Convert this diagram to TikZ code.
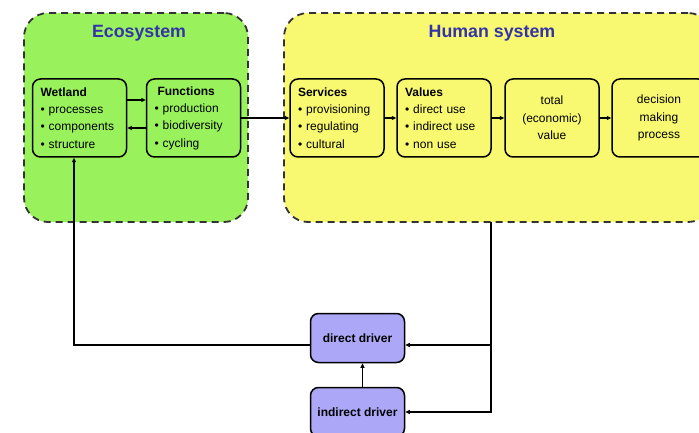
\documentclass[tikz,border=0pt]{standalone}
\usepackage{fontspec}
\setmainfont{Liberation Sans}
\usetikzlibrary{arrows.meta}
\definecolor{ecoG}{RGB}{153,242,92}
\definecolor{humY}{RGB}{249,248,113}
\definecolor{drvP}{RGB}{172,168,247}
\definecolor{ttlB}{RGB}{52,52,168}

\begin{document}
\begin{tikzpicture}[x=1pt,y=-1pt,>={Triangle[length=4.5pt,width=4pt]},
  zone/.style={draw=black!80,line width=1.8pt,dash pattern=on 7pt off 5pt,rounded corners=24pt},
  box/.style={draw,line width=1.5pt,rounded corners=8pt,minimum width=94pt,minimum height=78pt,
    text width=78pt,font=\fontsize{12}{17.3}\selectfont},
  drv/.style={box,fill=drvP,minimum height=49pt,text width=,font=\fontsize{12}{14}\selectfont\bfseries},
  ttl/.style={font=\fontsize{17.8}{20}\selectfont\bfseries,text=ttlB},
  link/.style={line width=1.5pt}]
\useasboundingbox (0,0) rectangle (699,433);
\clip (0,0) rectangle (699,433);
% the two systems
\node[zone,fill=ecoG,minimum width=224pt,minimum height=209pt] (eco) at (136,117.5) {};
\node[zone,fill=humY,minimum width=428pt,minimum height=209pt] (hum) at (498,117.5) {};
\node[ttl] (ecoT) at (139,33) {Ecosystem};
\node[ttl] (humT) at (492,33) {Human system};
% ecosystem part
\node[box,align=left] (wet) at (79.5,118)
  {\textbf{Wetland}\\\textbullet{} processes\\\textbullet{} components\\\textbullet{} structure};
\node[box,align=left] (fun) at (193.5,118)
  {\hspace{3pt}\textbf{Functions}\\\textbullet{} production\\\textbullet{} biodiversity\\\textbullet{} cycling};
% human part
\node[box,align=left] (ser) at (337,118)
  {\textbf{Services}\\\textbullet{} provisioning\\\textbullet{} regulating\\\textbullet{} cultural};
\node[box,align=left] (val) at (444,118)
  {\textbf{Values}\\\textbullet{} direct use\\\textbullet{} indirect use\\\textbullet{} non use};
\node[box,align=center] (tev) at (552,118) {total\\(economic)\\value};
\node[box,align=center] (dmp) at (659,118) {decision\\making\\process};
% drivers
\node[drv] (dd) at (357.5,338) {direct driver};
\node[drv] (id) at (357.5,412) {indirect driver};
\coordinate (tap) at (491,222);
% arrows inside the systems
\draw[link,->] ([yshift=18pt]wet.east) -- ([yshift=18pt]fun.west);
\draw[link,->] ([yshift=-10pt]fun.west) -- ([yshift=-10pt]wet.east);
\draw[line width=2.6pt,->] (fun) -- (ser);
\draw[link,->] (ser) -- (val);
\draw[link,->] (val) -- (tev);
\draw[link,->] (tev) -- (dmp);
% feedback through the drivers
\draw[link,->] (tap) |- ([yshift=-7pt]dd.east);
\draw[link,->] (tap) |- (id.east);
\draw[link,->] ([xshift=5pt]id.north) -- ([xshift=5pt]dd.south);
\draw[link,->] ([yshift=-7pt]dd.west) -| ([xshift=-5.5pt]wet.south);
\end{tikzpicture}
\end{document}
